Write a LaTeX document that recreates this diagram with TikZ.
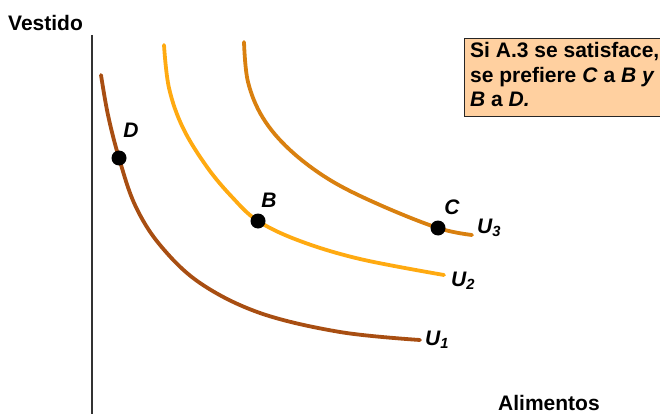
\documentclass[tikz,border=0pt]{standalone}
\usepackage{fontspec}
\setmainfont{Liberation Sans}
\begin{document}
\begin{tikzpicture}[x=1pt,y=-1pt,
  curve/.style={line width=3.8pt,line cap=round},
  dot/.style={circle,fill=black,inner sep=0pt,minimum size=15pt},
  ptlabel/.style={font=\fontsize{21}{22}\selectfont\bfseries\itshape,inner sep=0pt},
  ulabel/.style={font=\fontsize{21}{22}\selectfont\bfseries\itshape,inner sep=0pt,anchor=base west},
  axlabel/.style={font=\fontsize{21}{22}\selectfont\bfseries,inner sep=0pt,anchor=base west},
  infobox/.style={draw=black!85,line width=1.4pt,fill=peach,minimum width=210pt,minimum height=78pt,inner sep=0pt},
  infotext/.style={font=\fontsize{21}{24.5}\selectfont\bfseries,inner sep=0pt,anchor=base west}]
\definecolor{cone}{HTML}{A84E12}
\definecolor{ctwo}{HTML}{FFAA11}
\definecolor{cthree}{HTML}{D9800F}
\definecolor{peach}{HTML}{FFD0A0}
\useasboundingbox (0,0) rectangle (660,414);
% axis
\coordinate (ytop) at (92,35);
\coordinate (ybot) at (92,414);
\draw[line width=1.6pt,black!80] (ytop) -- (ybot);
\node[axlabel] (vestido) at (8,31) {Vestido};
\node[axlabel] (alim) at (498,410) {Alimentos};
% curves
\draw[curve,cone] plot[smooth,tension=0.6] coordinates {(101,75) (108,115) (119,158) (135,205) (160,245) (200,283) (260,313) (340,332) (420,340)};
\draw[curve,ctwo] plot[smooth,tension=0.6] coordinates {(164,45) (169,88) (183,128) (207,167) (232,197) (258,221) (300,241) (360,259) (444,275)};
\draw[curve,cthree] plot[smooth,tension=0.6] coordinates {(244,42) (248,82) (263,118) (290,150) (330,180) (380,205) (438,228) (472,235)};
% points
\node[dot] (D) at (119,158) {};
\node[dot] (B) at (258,221) {};
\node[dot] (C) at (438,228) {};
\node[ptlabel] (Dl) at (131,130) {D};
\node[ptlabel] (Bl) at (269,200) {B};
\node[ptlabel] (Cl) at (452,207) {C};
\node[ulabel] (U3) at (477,233) {U\textsubscript{3}};
\node[ulabel] (U2) at (451,286) {U\textsubscript{2}};
\node[ulabel] (U1) at (425,345) {U\textsubscript{1}};
% info box
\node[infobox,anchor=north west] (box) at (464,38) {};
\node[infotext] (l1) at (470,58) {Si A.3 se satisface,};
\node[infotext] (l2) at (470,82.5) {se prefiere \textit{C} a \textit{B y}};
\node[infotext] (l3) at (470,107) {\textit{B} a \textit{D.}};
\end{tikzpicture}
\end{document}
